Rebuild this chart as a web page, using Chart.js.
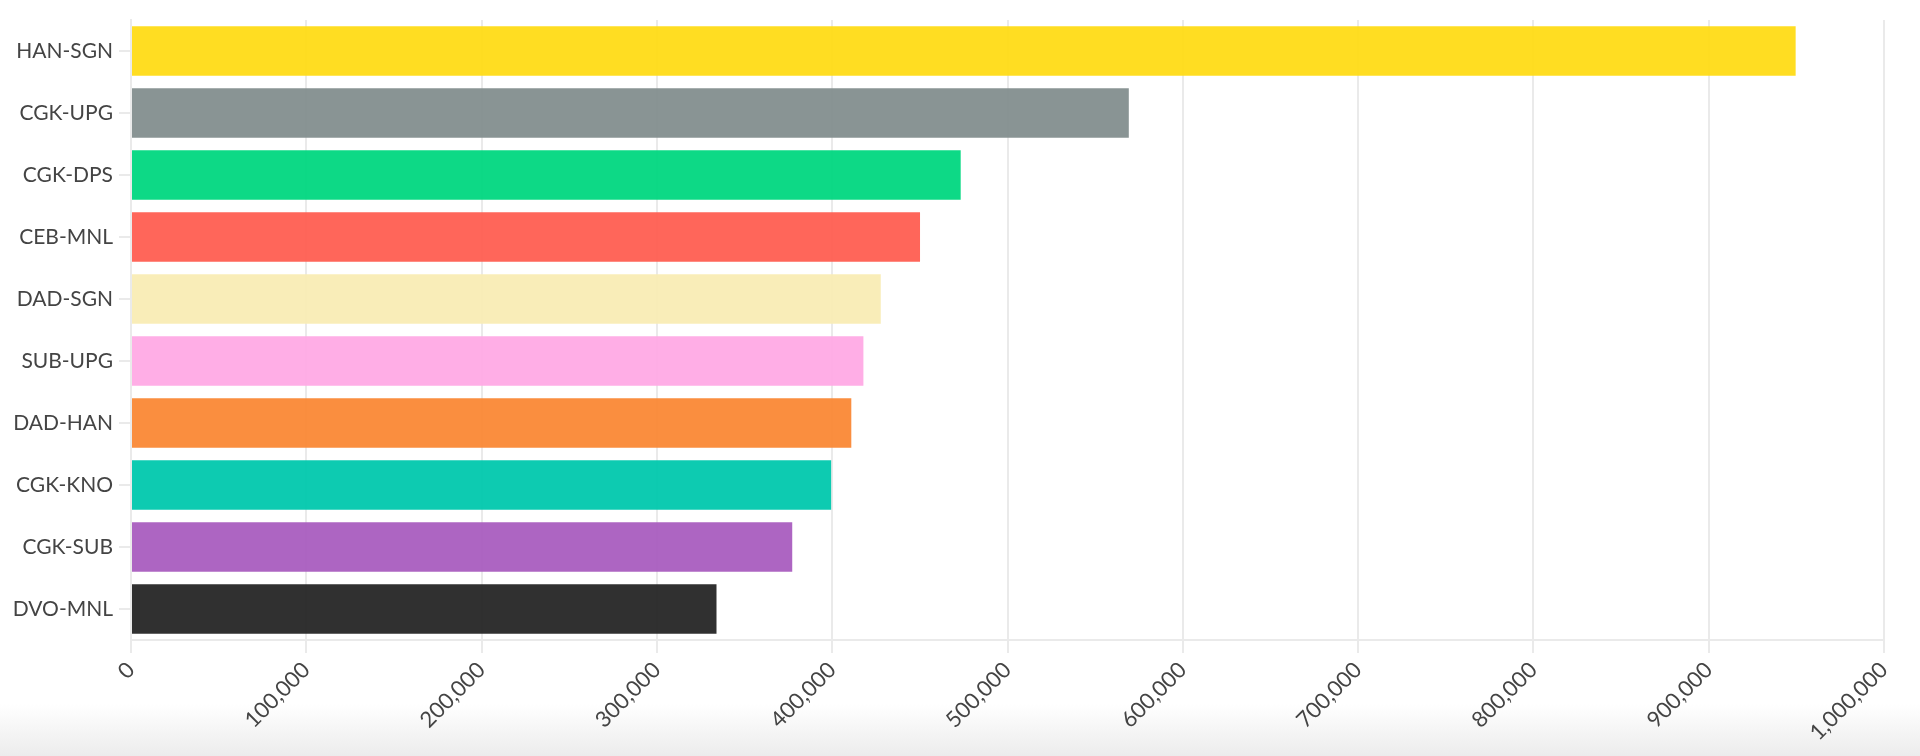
<!DOCTYPE html>
<html>
<head>
<meta charset="utf-8">
<script src="https://cdn.jsdelivr.net/npm/chart.js@4.4.0/dist/chart.umd.min.js"></script>
<style>
  html, body { margin: 0; padding: 0; width: 1920px; height: 756px; overflow: hidden; }
  body { background: linear-gradient(to bottom, #ffffff 0px, #ffffff 704px, #ececec 756px); }
  #wrap { position: absolute; left: 0; top: 0; width: 1920px; height: 756px; }
</style>
</head>
<body>
<div id="wrap"><canvas id="c" width="1920" height="756"></canvas></div>
<script>
const routes = ['HAN-SGN','CGK-UPG','CGK-DPS','CEB-MNL','DAD-SGN','SUB-UPG','DAD-HAN','CGK-KNO','CGK-SUB','DVO-MNL'];
const passengers = [949600, 569200, 473300, 450100, 427700, 417800, 410900, 399400, 377200, 334000];
const barColors = [
  'rgba(255,219,22,0.95)',
  'rgba(131,142,142,0.95)',
  'rgba(0,215,127,0.95)',
  'rgba(255,94,81,0.95)',
  'rgba(249,236,180,0.95)',
  'rgba(255,170,229,0.95)',
  'rgba(250,136,53,0.95)',
  'rgba(0,200,173,0.95)',
  'rgba(169,93,191,0.95)',
  'rgba(37,37,37,0.95)'
];
const xTickLabels = ['0','100,000','200,000','300,000','400,000','500,000','600,000','700,000','800,000','900,000','1,000,000'];

const gridColor = 'rgb(234,234,234)';
const fontFamily = 'Lato, "Open Sans", sans-serif';

new Chart(document.getElementById('c'), {
  type: 'bar',
  data: {
    labels: routes,
    datasets: [{
      data: passengers,
      backgroundColor: barColors,
      borderWidth: 0,
      barPercentage: 0.9,
      categoryPercentage: 0.89
    }]
  },
  options: {
    indexAxis: 'y',
    responsive: false,
    animation: false,
    layout: { padding: { top: 20, right: 36, left: 0, bottom: 0 } },
    plugins: { legend: { display: false }, tooltip: { enabled: false } },
    scales: {
      x: {
        min: 0, max: 1000000,
        ticks: {
          stepSize: 100000,
          maxRotation: 45, minRotation: 45,
          padding: 4,
          color: '#444444',
          font: { family: fontFamily, size: 22 },
          callback: (v, i) => xTickLabels[i]
        },
        grid: { color: gridColor, lineWidth: 2, tickLength: 13, drawTicks: true },
        border: { color: gridColor, width: 2 },
        afterFit: (s) => { s.height = 116; }
      },
      y: {
        ticks: {
          padding: 6,
          color: '#444444',
          font: { family: fontFamily, size: 21 }
        },
        grid: { drawOnChartArea: false, offset: false, color: gridColor, lineWidth: 2, tickLength: 12 },
        border: { color: gridColor, width: 2 },
        afterFit: (s) => { s.width = 131; }
      }
    }
  }
});
</script>
</body>
</html>
